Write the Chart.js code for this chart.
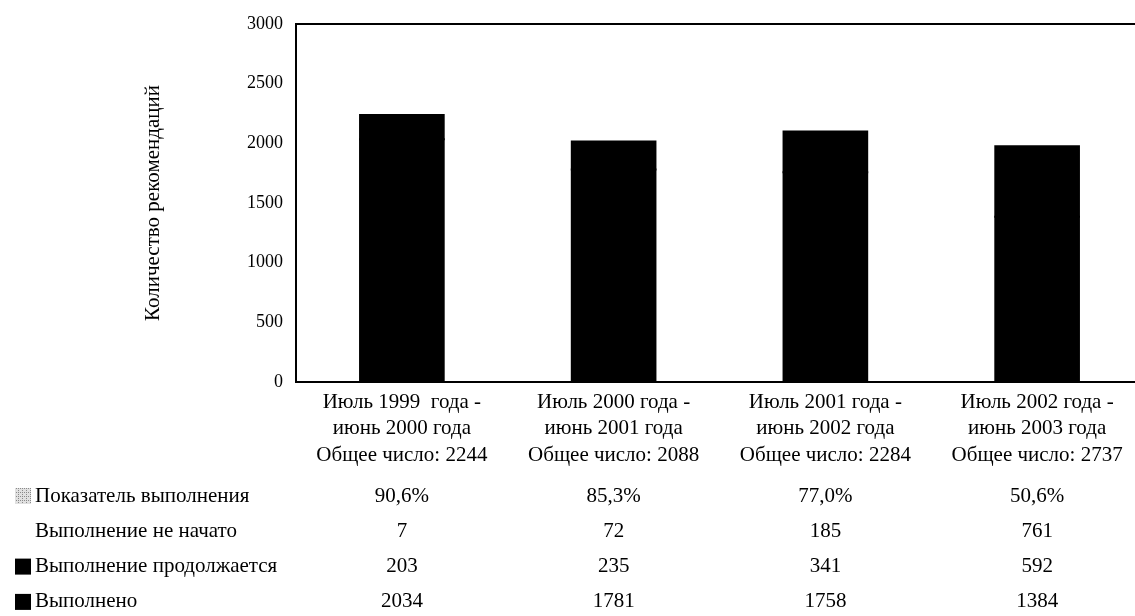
<!DOCTYPE html>
<html lang="ru">
<head>
<meta charset="utf-8">
<title>Количество рекомендаций</title>
<script src="https://cdn.jsdelivr.net/npm/chart.js@4.4.1/dist/chart.umd.min.js"></script>
<style>
    html, body { margin: 0; padding: 0; background: #fff; overflow: hidden; }
    #wrap { width: 1150px; height: 616px; }
</style>
</head>
<body>
<div id="wrap"><canvas id="chart" width="1150" height="616"></canvas></div>
<script>
// Data
const periodStart = ['Июль 1999  года -', 'Июль 2000 года -', 'Июль 2001 года -', 'Июль 2002 года -'];
const periodEnd = ['июнь 2000 года', 'июнь 2001 года', 'июнь 2002 года', 'июнь 2003 года'];
const totals = [2244, 2088, 2284, 2737];

const completionRate = [90.6, 85.3, 77.0, 50.6];   // %
const notStarted = [7, 72, 185, 761];
const inProgress = [203, 235, 341, 592];
const completed = [2034, 1781, 1758, 1384];

const yTicks = [0, 500, 1000, 1500, 2000, 2500, 3000];

const FONT = "'Liberation Serif', 'Times New Roman', serif";

const categories = periodStart.map((s, i) => [s, periodEnd[i], 'Общее число: ' + totals[i]]);

// table rows under the chart
const tableRows = [
    { label: 'Показатель выполнения', marker: 'pattern', values: completionRate.map(v => v.toFixed(1).replace('.', ',') + '%') },
    { label: 'Выполнение не начато', marker: null, values: notStarted },
    { label: 'Выполнение продолжается', marker: '#000', values: inProgress },
    { label: 'Выполнено', marker: '#000', values: completed }
];

function makePattern(ctx) {
    const c = document.createElement('canvas');
    c.width = 4; c.height = 4;
    const p = c.getContext('2d');
    p.fillStyle = '#e0e0e0';
    p.fillRect(0, 0, 4, 4);
    p.fillStyle = '#8a8a8a';
    p.fillRect(0, 0, 1, 1);
    p.fillRect(2, 2, 1, 1);
    p.fillRect(2, 0, 1, 1);
    return ctx.createPattern(c, 'repeat');
}

const tablePlugin = {
    id: 'dataTable',
    afterDraw(chart) {
        const ctx = chart.ctx;
        const x = chart.scales.x;
        const firstRow = 496;
        const rowGap = 35.3;
        ctx.save();
        ctx.font = '21px ' + FONT;
        ctx.fillStyle = '#000';
        ctx.textBaseline = 'middle';
        tableRows.forEach((row, r) => {
            const y = firstRow + r * rowGap;
            if (row.marker) {
                ctx.fillStyle = row.marker === 'pattern' ? makePattern(ctx) : row.marker;
                ctx.fillRect(15, y - 8, 16, 16);
            }
            ctx.fillStyle = '#000';
            ctx.textAlign = 'left';
            ctx.fillText(row.label, 35, y);
            ctx.textAlign = 'center';
            row.values.forEach((v, i) => {
                ctx.fillText(String(v), x.getPixelForValue(i), y);
            });
        });
        ctx.restore();
    }
};

const ctx = document.getElementById('chart').getContext('2d');
new Chart(ctx, {
    type: 'bar',
    data: {
        labels: categories,
        datasets: [
            { label: 'Выполнено', data: completed, backgroundColor: '#000', stack: 'all', inflateAmount: 1 },
            { label: 'Выполнение продолжается', data: inProgress, backgroundColor: '#000', stack: 'all', inflateAmount: 1 },
            { label: 'Выполнение не начато', data: notStarted, backgroundColor: '#fff', stack: 'all', inflateAmount: 0 }
        ]
    },
    options: {
        responsive: false,
        animation: false,
        layout: { padding: { top: 24, right: 7, left: 0, bottom: 0 } },
        datasets: { bar: { categoryPercentage: 1, barPercentage: 0.395 } },
        plugins: {
            legend: { display: false },
            tooltip: { enabled: false }
        },
        scales: {
            x: {
                stacked: true,
                grid: { display: false, drawTicks: false },
                border: { color: '#000', width: 2 },
                ticks: {
                    color: '#000',
                    font: { family: FONT, size: 21, lineHeight: 1.26 },
                    padding: 7,
                    maxRotation: 0,
                    autoSkip: false
                },
                afterFit(scale) { scale.height = 234; }
            },
            y: {
                stacked: true,
                min: 0,
                max: 3000,
                afterBuildTicks(scale) { scale.ticks = yTicks.map(v => ({ value: v })); },
                grid: {
                    drawTicks: false,
                    lineWidth: 2,
                    color: c => c.tick && c.tick.value === 3000 ? '#000' : 'rgba(0,0,0,0)'
                },
                border: { color: '#000', width: 2 },
                ticks: {
                    color: '#000',
                    font: { family: FONT, size: 18 },
                    padding: 13,
                    callback: v => String(v)
                },
                title: {
                    display: true,
                    text: 'Количество рекомендаций',
                    color: '#000',
                    font: { family: FONT, size: 21 },
                    padding: { top: 141, bottom: 0 }
                },
                afterFit(scale) { scale.width = 296; }
            }
        }
    },
    plugins: [tablePlugin]
});
</script>
</body>
</html>
